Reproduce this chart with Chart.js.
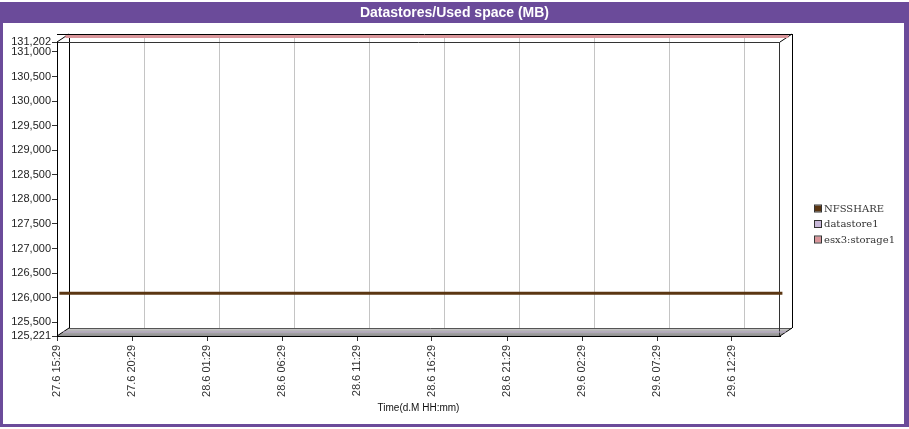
<!DOCTYPE html>
<html><head><meta charset="utf-8">
<script src="https://cdn.jsdelivr.net/npm/chart.js@4.4.1/dist/chart.umd.min.js"></script>
<style>html,body{margin:0;padding:0;background:#fff}#wrap{width:909px;height:429px;position:relative}</style>
</head><body><div id="wrap"><canvas id="c" width="909" height="429"></canvas></div>
<script>
const chartTitle = 'Datastores/Used space (MB)';
const xAxisTitle = 'Time(d.M HH:mm)';
const seriesNames = ['NFSSHARE', 'datastore1', 'esx3:storage1'];
const seriesColors = ['#5b3612', '#c8b8d8', '#d9959a'];
const timeHours = [0, 6, 12, 18, 24, 30, 36, 42, 48.2];
const nfsshare = [126060, 126060, 126060, 126060, 126060, 126060, 126060, 126060, 126060];
const datastore1 = [125221, 125221, 125221, 125221, 125221, 125221, 125221, 125221, 125221];
const esx3storage1 = [131202, 131202, 131202, 131202, 131202, 131202, 131202, 131202, 131202];
const xTickHours = [0, 5, 10, 15, 20, 25, 30, 35, 40, 45];
const xTickLabels = ['27.6 15:29', '27.6 20:29', '28.6 01:29', '28.6 06:29', '28.6 11:29', '28.6 16:29', '28.6 21:29', '29.6 02:29', '29.6 07:29', '29.6 12:29'];
const yTickValues = [125221, 125500, 126000, 126500, 127000, 127500, 128000, 128500, 129000, 129500, 130000, 130500, 131000, 131202];
const xMin = 0, xMax = 48.2, yMin = 125221, yMax = 131202;

const DX = 12, DY = 8;
const PURPLE = '#6b4b9a';

const frame3d = {
  id: 'frame3d',
  beforeDraw(chart) {
    const ctx = chart.ctx, W = chart.width, H = chart.height;
    const a = chart.chartArea;
    ctx.save();
    ctx.fillStyle = '#ffffff'; ctx.fillRect(0, 0, W, H);
    ctx.fillStyle = PURPLE; ctx.fillRect(0, 2, W, 425);
    ctx.fillStyle = '#ffffff'; ctx.fillRect(3, 23, 901, 401);
    ctx.fillStyle = '#ffffff';
    ctx.font = 'bold 14px "Liberation Sans", Arial, sans-serif';
    ctx.textAlign = 'center'; ctx.textBaseline = 'middle';
    ctx.fillText(chartTitle, W / 2, 13.5);

    const L = a.left, R = a.right, T = a.top, B = a.bottom;
    ctx.strokeStyle = '#c4c4c4'; ctx.lineWidth = 1;
    const xs = chart.scales.x;
    xTickHours.forEach(v => {
      const px = Math.round(xs.getPixelForValue(v)) + DX + 0.5;
      ctx.beginPath(); ctx.moveTo(px, T - DY); ctx.lineTo(px, B - DY); ctx.stroke();
    });
    const g = ctx.createLinearGradient(0, B - DY, 0, B);
    g.addColorStop(0, '#d0d0d0'); g.addColorStop(0.35, '#b4b4b4'); g.addColorStop(1, '#8e8e8e');
    ctx.fillStyle = g;
    ctx.beginPath();
    ctx.moveTo(L, B); ctx.lineTo(R, B); ctx.lineTo(R + DX, B - DY); ctx.lineTo(L + DX, B - DY); ctx.closePath();
    ctx.fill();
    ctx.strokeStyle = '#555'; ctx.beginPath();
    ctx.moveTo(L + DX, B - DY + 0.5); ctx.lineTo(R + DX, B - DY + 0.5); ctx.stroke();
    ctx.strokeStyle = '#000'; ctx.lineWidth = 1;
    ctx.beginPath();
    ctx.moveTo(L + DX + 0.5, T - DY); ctx.lineTo(L + DX + 0.5, B - DY);
    ctx.moveTo(R + DX + 0.5, T - DY); ctx.lineTo(R + DX + 0.5, B - DY);
    ctx.moveTo(L, T - DY + 0.5); ctx.lineTo(R + DX, T - DY + 0.5);
    ctx.moveTo(L, T); ctx.lineTo(L + DX, T - DY);
    ctx.moveTo(R, T); ctx.lineTo(R + DX, T - DY);
    ctx.moveTo(R, B); ctx.lineTo(R + DX, B - DY);
    ctx.moveTo(L, B); ctx.lineTo(L + DX, B - DY);
    ctx.stroke();
    ctx.strokeStyle = '#333';
    ctx.beginPath();
    ctx.moveTo(L, T + 0.5); ctx.lineTo(R, T + 0.5);
    ctx.moveTo(R - 0.5, T); ctx.lineTo(R - 0.5, B);
    ctx.stroke();
    ctx.restore();
  },
  beforeDatasetDraw(chart, args) {
    const d = chart.data.datasets[args.index].depth || 0;
    chart.ctx.save();
    chart.ctx.translate(DX * d, -DY * d);
  },
  afterDatasetDraw(chart) {
    chart.ctx.restore();
  },
  afterDraw(chart) {
    const ctx = chart.ctx;
    ctx.save();
    ctx.font = '10px "DejaVu Serif", "Liberation Serif", serif';
    ctx.textAlign = 'left'; ctx.textBaseline = 'middle';
    const ys = [208.5, 224, 239.5];
    seriesNames.forEach((n, i) => {
      ctx.fillStyle = seriesColors[i];
      ctx.fillRect(815, ys[i] - 3, 6, 6);
      ctx.strokeStyle = '#333'; ctx.lineWidth = 1;
      ctx.strokeRect(814.5, ys[i] - 3.5, 7, 7);
      ctx.fillStyle = '#333';
      ctx.fillText(n, 824, ys[i] + 0.5);
    });
    ctx.restore();
  }
};

const mk = (arr) => timeHours.map((t, i) => ({ x: t, y: arr[i] }));

new Chart(document.getElementById('c'), {
  type: 'line',
  data: {
    datasets: [
      { label: seriesNames[0], data: mk(nfsshare), borderColor: seriesColors[0], borderWidth: 3, pointRadius: 0, clip: false, depth: 0.2 },
      { label: seriesNames[1], data: mk(datastore1), borderColor: '#b9a9c9', borderWidth: 1, pointRadius: 0, clip: false, depth: 0.5 },
      { label: seriesNames[2], data: mk(esx3storage1), borderColor: seriesColors[2], borderWidth: 3, pointRadius: 0, clip: false, depth: 0.7 }
    ]
  },
  options: {
    responsive: false,
    animation: false,
    devicePixelRatio: 1,
    layout: { padding: { left: 0, right: 129, top: 42, bottom: 0 } },
    plugins: { legend: { display: false }, title: { display: false }, tooltip: { enabled: false } },
    scales: {
      x: {
        type: 'linear', min: xMin, max: xMax,
        afterBuildTicks: (s) => { s.ticks = xTickHours.map(v => ({ value: v })); },
        afterFit: (s) => { s.height = 93; },
        grid: { drawOnChartArea: false, drawTicks: true, tickLength: 5, color: '#333' },
        border: { display: true, color: '#000' },
        ticks: {
          autoSkip: false, minRotation: 90, maxRotation: 90, padding: 4,
          color: '#333', font: { family: '"Liberation Sans", Arial, sans-serif', size: 11 },
          callback: (v, i) => xTickLabels[i]
        },
        title: { display: true, text: xAxisTitle, color: '#111', padding: { top: 0, bottom: 15 },
          font: { family: '"Liberation Sans", Arial, sans-serif', size: 10 } }
      },
      y: {
        type: 'linear', min: yMin, max: yMax,
        afterBuildTicks: (s) => { s.ticks = yTickValues.map(v => ({ value: v })); },
        afterFit: (s) => { s.width = 57; },
        grid: { drawOnChartArea: false, drawTicks: true, tickLength: 5, color: '#333' },
        border: { display: true, color: '#000' },
        ticks: {
          autoSkip: false, padding: 1, color: '#222',
          font: { family: '"Liberation Sans", Arial, sans-serif', size: 11 },
          callback: (v) => Number(v).toLocaleString('en-US')
        }
      }
    }
  },
  plugins: [frame3d]
});
</script>
</body></html>
